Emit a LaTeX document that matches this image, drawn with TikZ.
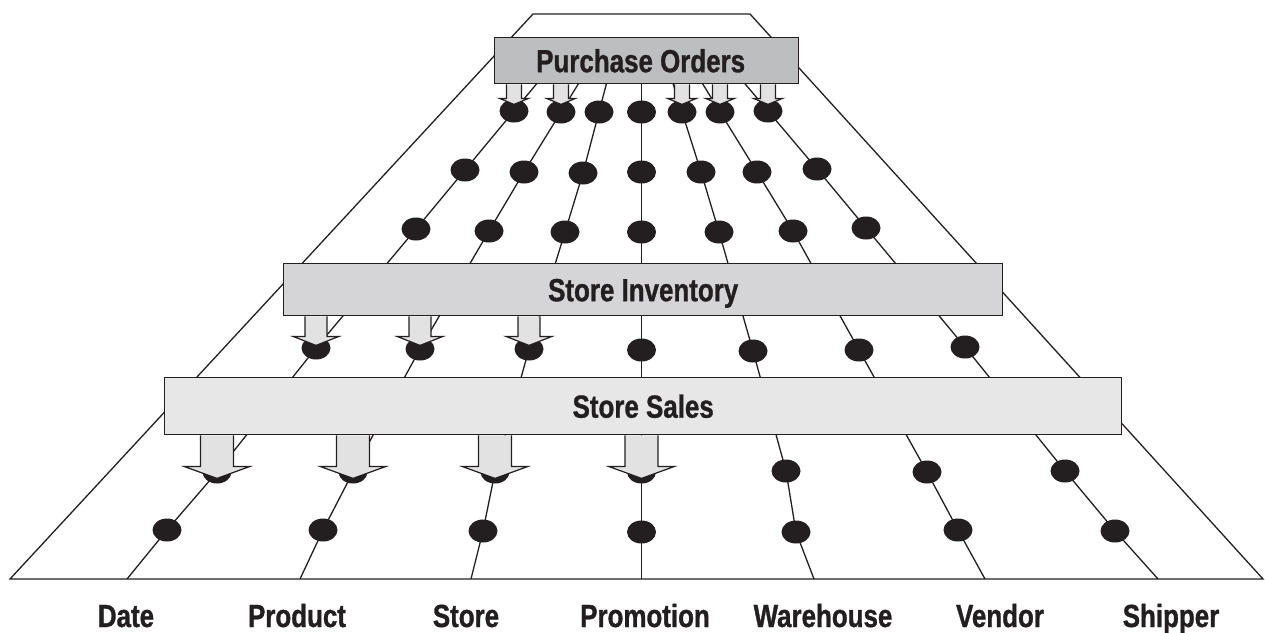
\documentclass[tikz,border=0pt]{standalone}
\usepackage{fontspec}
\newfontfamily\lblfont[FakeStretch=0.81,BoldFeatures={FakeBold=1}]{Liberation Sans}
\usetikzlibrary{calc,shapes.geometric}
\definecolor{ink}{HTML}{231F20}
\definecolor{pofill}{HTML}{BDBEC0}
\definecolor{sifill}{HTML}{D5D5D7}
\definecolor{ssfill}{HTML}{E7E7E8}
\definecolor{arrfill}{HTML}{E2E2E3}
\newcommand\blockarr[6]{% box, dot, shaft length, half shaft, half head, head height
  \coordinate (tmp) at (#1.south -| #2);
  \filldraw[barrow] ($(tmp)+(-#4,0)$) -- ++(0,#3) -- ++(#4-#5,0) -- ++(#5,#6) -- ++(#5,-#6) -- ++(#4-#5,0) -- ++(0,-#3);
}
\begin{document}
\begin{tikzpicture}[x=1pt,y=-1pt,
  dim/.style={draw=ink, line width=1.3pt},
  dot/.style={ellipse, fill=ink, minimum width=29pt, minimum height=23pt, inner sep=0pt},
  facttable/.style={draw=ink, line width=1.4pt, rectangle, inner sep=0pt, anchor=north west,
    text height=23pt, text depth=0pt, text=ink, font=\lblfont\bfseries\fontsize{32}{38}\selectfont},
  dimlabel/.style={font=\lblfont\bfseries\fontsize{32}{38}\selectfont, text=ink, anchor=base, inner sep=0pt},
  barrow/.style={fill=arrfill, draw=ink, line width=1.2pt, line join=miter},
]
\useasboundingbox (0,0) rectangle (1265,632);
% outer frame
\coordinate (fl) at (10,579);
\coordinate (fr) at (1263,579);
\coordinate (ftr) at (750,14);
\coordinate (ftl) at (533,14);
\draw[dim] (fl) -- (fr) -- (ftr) -- (ftl) -- cycle;
% dimension lines with their dots (rows 1 = top ... 6 = bottom)
\foreach \i/\bx/\xa/\ya/\xb/\yb/\xc/\yc/\xd/\yd/\xe/\ye/\xf/\yf in {
  1/127/514/111/465/170/416/229/316/348/217/472/167/530,
  2/300/561/112/524/172/489/231/420/349/353/472/323/530,
  3/471/599/112/583/173/565/232/529/349/495/472/483/531,
  4/641.5/641.5/112/641.5/172/641.5/232/641.5/350/641.5/472/641.5/532,
  5/814/682/112/701/172/719/232/753/351/786/471/796/532,
  6/985/720/112/757/172/793/231/859/350/927/472/958/530,
  7/1158/768/111/817/169/866/228/965/347/1065/471/1115/531} {
  \coordinate (b-\i) at (\bx,579);
  \node[dot] (d-\i-1) at (\xa,\ya) {};
  \node[dot] (d-\i-2) at (\xb,\yb) {};
  \node[dot] (d-\i-3) at (\xc,\yc) {};
  \node[dot] (d-\i-4) at (\xd,\yd) {};
  \node[dot] (d-\i-5) at (\xe,\ye) {};
  \node[dot] (d-\i-6) at (\xf,\yf) {};
  \coordinate (t-\i) at ($(d-\i-2.center)!1.8!(d-\i-1.center)$);
  \draw[dim] (b-\i) -- (d-\i-6.center) -- (d-\i-5.center) -- (d-\i-4.center) -- (d-\i-3.center)
    -- (d-\i-2.center) -- (d-\i-1.center) -- (t-\i);
}
% fact tables
\node[facttable, fill=pofill, minimum width=304pt, minimum height=46pt] (po) at (494,37) {Purchase Orders\hspace*{12pt}};
\node[facttable, fill=sifill, minimum width=719pt, minimum height=52pt] (si) at (283,263) {Store Inventory};
\node[facttable, fill=ssfill, minimum width=957pt, minimum height=57pt] (ss) at (164,377) {Store Sales};
% arrows
\foreach \i in {1,2,5,6,7} { \blockarr{po}{d-\i-1}{14}{7.5}{14.5}{6} }
\foreach \i in {1,2,3} { \blockarr{si}{d-\i-4}{20}{11}{23}{9} }
\foreach \i in {1,2,3,4} { \blockarr{ss}{d-\i-5}{31}{16.5}{33}{12} }
% labels
\node[dimlabel] (l1) at (126,627) {Date};
\node[dimlabel] (l2) at (297,627) {Product};
\node[dimlabel] (l3) at (466,627) {Store};
\node[dimlabel] (l4) at (645,627) {Promotion};
\node[dimlabel] (l5) at (823,627) {Warehouse};
\node[dimlabel] (l6) at (1000,627) {Vendor};
\node[dimlabel] (l7) at (1171,627) {Shipper};
\end{tikzpicture}
\end{document}
